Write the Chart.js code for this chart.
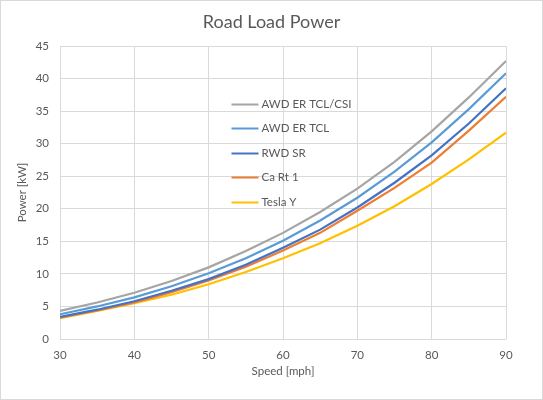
<!DOCTYPE html>
<html>
<head>
<meta charset="utf-8">
<script src="https://cdn.jsdelivr.net/npm/chart.js@4"></script>
<style>
  html, body { margin: 0; padding: 0; background: #fff; }
  #wrap { width: 543px; height: 400px; }
</style>
</head>
<body>
<div id="wrap"><canvas id="chart" width="543" height="400"></canvas></div>
<script>
// Data
const speeds = [30, 35, 40, 45, 50, 55, 60, 65, 70, 75, 80, 85, 90]
const seriesNames = ["AWD ER TCL/CSI", "AWD ER TCL", "RWD SR", "Ca Rt 1", "Tesla Y"]
const awdErTclCsi = [4.3, 5.6, 7.1, 8.9, 11.0, 13.5, 16.3, 19.5, 23.1, 27.2, 31.9, 37.1, 42.7]
const awdErTcl    = [3.8, 5.0, 6.4, 8.1, 10.1, 12.4, 15.1, 18.2, 21.7, 25.7, 30.2, 35.3, 40.8]
const rwdSr       = [3.4, 4.5, 5.8, 7.4, 9.2, 11.4, 14.0, 16.8, 20.2, 24.0, 28.2, 33.1, 38.5]
const caRt1       = [3.3, 4.4, 5.6, 7.2, 9.0, 11.1, 13.6, 16.3, 19.7, 23.2, 27.1, 32.0, 37.2]
const teslaY      = [3.2, 4.3, 5.5, 6.8, 8.4, 10.3, 12.4, 14.7, 17.4, 20.4, 23.8, 27.6, 31.7]
const seriesColors = ["#A5A5A5", "#5B9BD5", "#4472C4", "#ED7D31", "#FFC000"]
const yTicks = [0, 5, 10, 15, 20, 25, 30, 35, 40, 45]
const xTicks = [30, 40, 50, 60, 70, 80, 90]

const textColor = "#595959"
const gridColor = "#D9D9D9"
const fontFamily = "Lato, 'Noto Sans', sans-serif"
const smallSize = 11.5

const allValues = [awdErTclCsi, awdErTcl, rwdSr, caRt1, teslaY]
const datasets = seriesNames.map((name, i) => ({
  label: name,
  data: speeds.map((s, j) => ({ x: s, y: allValues[i][j] })),
  borderColor: seriesColors[i],
  backgroundColor: seriesColors[i],
  borderWidth: 2.2,
  pointRadius: 0,
  tension: 0,
  order: i
}))

// white background, thin outer border and the title centred on the canvas
const frame = {
  id: "frame",
  beforeDraw(chart) {
    const { ctx, width, height } = chart
    ctx.save()
    ctx.fillStyle = "#fff"
    ctx.fillRect(0, 0, width, height)
    ctx.strokeStyle = gridColor
    ctx.lineWidth = 1
    ctx.strokeRect(0.5, 0.5, width - 1, height - 1)
    ctx.fillStyle = textColor
    ctx.font = "18px " + fontFamily
    ctx.textAlign = "center"
    ctx.textBaseline = "middle"
    ctx.fillText("Road Load Power", width / 2, 22)
    ctx.restore()
  }
}

// legend drawn inside the plot area, transparent like the original
const innerLegend = {
  id: "innerLegend",
  afterDatasetsDraw(chart) {
    const { ctx, chartArea: a } = chart
    const w = a.right - a.left, h = a.bottom - a.top
    const x0 = a.left + w * 0.3845
    const y0 = a.top + h * 0.198
    const step = h * 0.0832
    ctx.save()
    ctx.font = smallSize + "px " + fontFamily
    ctx.textBaseline = "middle"
    chart.data.datasets.forEach((d, i) => {
      const y = Math.round(y0 + step * i) + 0.5
      ctx.strokeStyle = d.borderColor
      ctx.lineWidth = 2
      ctx.beginPath()
      ctx.moveTo(x0, y)
      ctx.lineTo(x0 + 27, y)
      ctx.stroke()
      ctx.fillStyle = textColor
      ctx.fillText(d.label, x0 + 30, y)
    })
    ctx.restore()
  }
}

new Chart(document.getElementById("chart"), {
  type: "line",
  data: { datasets },
  plugins: [frame, innerLegend],
  options: {
    responsive: false,
    animation: false,
    devicePixelRatio: 1,
    layout: { padding: { top: 46, right: 37, bottom: 0, left: 0 } },
    plugins: {
      legend: { display: false },
      tooltip: { enabled: false },
      title: { display: false }
    },
    scales: {
      x: {
        type: "linear",
        min: xTicks[0],
        max: xTicks[xTicks.length - 1],
        afterBuildTicks: s => { s.ticks = xTicks.map(v => ({ value: v })) },
        afterFit: s => { s.height = 61 },
        grid: { color: gridColor, drawTicks: false },
        border: { display: false },
        ticks: { color: textColor, font: { family: fontFamily, size: smallSize }, padding: 9 },
        title: { display: true, text: "Speed [mph]", color: textColor, font: { family: fontFamily, size: smallSize }, padding: { top: 0, bottom: 22 } }
      },
      y: {
        min: yTicks[0],
        max: yTicks[yTicks.length - 1],
        afterBuildTicks: s => { s.ticks = yTicks.map(v => ({ value: v })) },
        afterFit: s => { s.width = 60 },
        grid: { color: gridColor, drawTicks: false },
        border: { display: false },
        ticks: { color: textColor, font: { family: fontFamily, size: smallSize }, padding: 11 },
        title: { display: true, text: "Power [kW]", color: textColor, font: { family: fontFamily, size: smallSize }, padding: { top: 15, bottom: 0 } }
      }
    }
  }
})
</script>
</body>
</html>
